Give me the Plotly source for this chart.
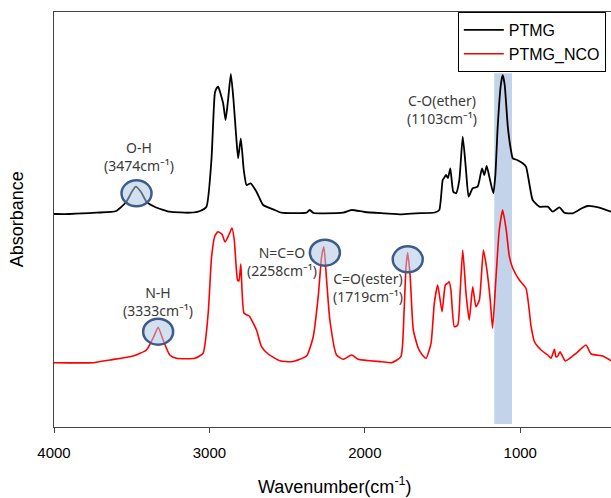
import plotly.graph_objects as go

# ---- data (wavenumber cm^-1, absorbance in arbitrary units) ----
ptmg_wn = [4000, 3900, 3727, 3600, 3534, 3500, 3474, 3440, 3405, 3350, 3255, 3126, 3060, 3019,
           2987, 2965, 2954, 2944, 2912, 2896, 2880, 2862, 2845, 2826, 2815, 2798, 2779, 2761,
           2735, 2697, 2654, 2590, 2536, 2375, 2354, 2330, 2278, 2139, 2085, 2000, 1871, 1763,
           1671, 1550, 1521, 1499, 1490, 1478, 1465, 1450, 1431, 1413, 1392, 1370, 1349, 1332,
           1306, 1274, 1246, 1231, 1216, 1199, 1173, 1160, 1145, 1125, 1113, 1100, 1080, 1060,
           1048, 1020, 984, 963, 940, 920, 877, 823, 791, 748, 716, 662, 600, 565, 491, 416]
ptmg_abs = [213, 213, 214.3, 216, 225.3, 235, 240.3, 235, 225.3, 220, 215.3, 214.3, 216, 220.3,
            267, 334, 338.7, 340.3, 324, 307, 327, 353, 327, 287, 268.7, 288.7, 257, 242,
            243.7, 235.3, 222, 217.7, 214.3, 214.3, 217, 214, 213.7, 214.3, 217, 215, 213.7, 212.7,
            213.7, 214.5, 217, 247, 249, 252, 249, 258.7, 235.3, 233.7, 247, 290.3, 257, 230.3,
            238.7, 240.3, 258.7, 252, 261, 250.3, 233.7, 252, 300.3, 342, 352, 342, 300.3, 277,
            268.7, 267, 263.7, 260.3, 242, 227, 220.3, 220.3, 215.3, 219.7, 214.3, 213.7, 219, 221, 219.3, 215.3]

nco_wn = [4000, 3749, 3641, 3491, 3405, 3358, 3330, 3298, 3255, 3212, 3094, 3041, 3008, 2986,
          2965, 2945, 2920, 2899, 2875, 2855, 2840, 2819, 2810, 2798, 2777, 2744, 2697, 2665,
          2622, 2547, 2471, 2375, 2332, 2300, 2278, 2263, 2246, 2225, 2182, 2139, 2085, 2043,
          1892, 1827, 1768, 1748, 1735, 1724, 1708, 1688, 1656, 1630, 1606, 1574, 1553, 1531,
          1503, 1482, 1465, 1457, 1446, 1424, 1402, 1386, 1370, 1349, 1328, 1306, 1285, 1263,
          1237, 1216, 1195, 1178, 1157, 1135, 1113, 1090, 1070, 1048, 1006, 963, 930, 909,
          866, 823, 802, 780, 770, 758, 744, 710, 641, 577, 544, 469, 416]
nco_abs = [64.3, 64.3, 67, 71, 77, 90.3, 99.7, 87, 72, 68.7, 68.7, 73.7, 113.7, 170.3,
           191, 195.3, 193, 185, 192, 199, 187, 147, 146, 163, 113.7, 111, 97, 80.3,
           73, 66.3, 65.3, 71, 90.3, 130.3, 170.3, 180.3, 147, 107, 72, 67.7, 72, 67.7,
           65.3, 64.3, 70.3, 113.7, 160.3, 174.3, 150.3, 97, 78.7, 72, 68.7, 83.7, 123.7, 142,
           115.3, 142, 144, 145.3, 137, 100.3, 102, 137, 177, 133.7, 107, 140.3, 120.3, 127,
           177, 158.7, 130.3, 98.7, 147, 197, 217, 197, 170.3, 158.7, 147, 138.7, 100.3, 85.3,
           77, 72, 68.7, 77.7, 70, 71, 75.3, 66, 73.7, 82, 73, 71, 66.3]

series_names = ["PTMG", "PTMG_NCO"]
tick_vals = [4000, 3000, 2000, 1000]
tick_text = ["4000", "3000", "2000", "1000"]
x_title = "Wavenumber(cm<sup>-1</sup>)"
y_title = "Absorbance"

# peak labels (centre of the two-line label)
label_wn = [3453, 3330, 2532, 1978, 1506]
label_y = [270.3, 125.2, 165.8, 139.5, 317.5]
label_name = ["O-H", "N-H", "N=C=O", "C=O(ester)", "C-O(ether)"]
label_pos = ["(3474cm⁻¹)", "(3333cm⁻¹)", "(2258cm⁻¹)", "(1719cm⁻¹)", "(1103cm⁻¹)"]

# circled peaks (centre wavenumber, centre absorbance)
circle_wn = [3469, 3330, 2257, 1724]
circle_y = [233.7, 95.3, 174.3, 167.7]

# highlighted band
band_wn = [1167, 1053]
band_y = [3, 353.7]

fig = go.Figure()
fig.add_trace(go.Scatter(x=ptmg_wn, y=ptmg_abs, mode="lines", name=series_names[0],
                         line=dict(color="black", width=1.8, shape="spline", smoothing=0.5)))
fig.add_trace(go.Scatter(x=nco_wn, y=nco_abs, mode="lines", name=series_names[1],
                         line=dict(color="#ff0000", width=1.6, shape="spline", smoothing=0.5)))

fig.add_shape(type="rect", xref="x", yref="y", x0=band_wn[0], x1=band_wn[1],
              y0=band_y[0], y1=band_y[1], fillcolor="#c3d4ea", line_width=0, layer="below")

for cx, cy in zip(circle_wn, circle_y):
    fig.add_shape(type="circle", xref="x", yref="y", xsizemode="pixel", ysizemode="pixel",
                  xanchor=cx, yanchor=cy, x0=-15, x1=15, y0=-13, y1=13,
                  fillcolor="rgba(175,198,228,0.55)", line=dict(color="#3e5c8a", width=2.5),
                  layer="above")

afont = dict(family="Noto Sans, Open Sans, sans-serif", size=14, color="#3a3a3a")
for wn, yc, nm, ps in zip(label_wn, label_y, label_name, label_pos):
    fig.add_annotation(x=wn, y=yc, text=nm + "<br>" + ps, showarrow=False, xanchor="center",
                       yanchor="middle", align="center", font=afont)

tfont = dict(family="Liberation Sans, Arial, sans-serif", size=18, color="black")
fig.add_annotation(xref="paper", yref="paper", x=-0.067, y=0.5, text=y_title,
                   textangle=-90, showarrow=False, xanchor="center", yanchor="middle", font=tfont)
fig.add_annotation(xref="paper", yref="paper", x=0.504, y=-0.142, text=x_title,
                   showarrow=False, xanchor="center", yanchor="middle", font=tfont)

fig.update_layout(
    width=611, height=498,
    margin=dict(l=54, r=0, t=12, b=71, autoexpand=False),
    paper_bgcolor="white", plot_bgcolor="white",
    font=dict(family="Liberation Sans, Arial, sans-serif", color="black"),
    showlegend=True,
    legend=dict(x=0.725, y=1, xanchor="left", yanchor="top",
                bgcolor="white", bordercolor="black", borderwidth=1,
                font=dict(size=16, family="Liberation Sans, Arial, sans-serif", color="black"),
                tracegroupgap=0, itemwidth=40),
)
fig.update_xaxes(range=[4000, 416], tickvals=tick_vals, ticktext=tick_text,
                 showgrid=False, zeroline=False, showline=True, linecolor="#444",
                 linewidth=1, mirror=True, ticks="outside", ticklen=5, tickcolor="#444",
                 tickfont=dict(size=15), ticklabelstandoff=7, automargin=False)
fig.update_yaxes(range=[0, 415], showgrid=False, zeroline=False, showline=True,
                 linecolor="#444", linewidth=1, showticklabels=False, ticks="",
                 automargin=False)

fig.write_html("out.html", config={"displayModeBar": False},
               post_script="document.body.style.margin='0px';document.body.style.overflow='hidden';")
